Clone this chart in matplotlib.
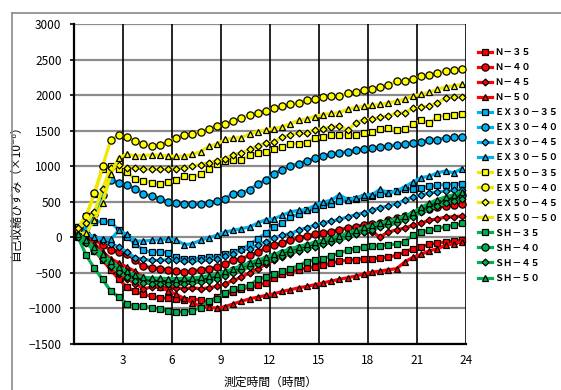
import numpy as np
import matplotlib.pyplot as plt
from matplotlib.lines import Line2D

plt.rcParams["font.family"] = ["Noto Sans CJK JP", "DejaVu Sans"]

# measurement times (h)
hours = np.arange(0.25, 24.0, 0.5)

n35 = [30, -40, -190, -320, -460, -590, -700, -760, -800, -830, -850, -860,
       -870, -880, -870, -880, -910, -840, -795, -770, -725, -700, -676, -640,
       -573, -521, -488, -455, -427, -418, -394, -362, -333, -324, -315, -300,
       -300, -286, -277, -254, -207, -160, -136, -99, -80, -66, -52, -42]
n40 = [100, 50, -30, -113, -174, -200, -230, -324, -408, -427, -441, -455,
       -474, -488, -474, -455, -441, -418, -371, -324, -300, -254, -207, -150,
       -110, -80, -40, -10, 20, 40, 60, 80, 110, 130, 150, 170,
       190, 200, 240, 270, 300, 330, 370, 400, 420, 440, 455, 470]
n45 = [60, -20, -150, -300, -420, -512, -582, -653, -723, -700, -700, -709,
       -709, -723, -709, -723, -709, -690, -653, -606, -559, -500, -440, -380,
       -320, -270, -230, -190, -150, -120, -90, -60, -30, 0, 40, 80,
       70, 10, 75, 105, 130, 170, 200, 240, 260, 285, 290, 300]
n50 = [80, 0, -90, -200, -300, -360, -420, -480, -560, -640, -700, -750,
       -800, -860, -920, -970, -985, -995, -975, -935, -900, -865, -840, -817,
       -793, -760, -737, -710, -690, -666, -640, -615, -590, -568, -545, -515,
       -490, -474, -455, -441, -347, -280, -240, -190, -160, -113, -90, -60]
ex30_35 = [150, 200, 211, 225, 216, 100, 0, -90, -180, -210, -200, -220,
           -280, -300, -300, -290, -280, -270, -240, -200, -170, -100, -20, 60,
           150, 200, 286, 324, 380, 404, 451, 474, 512, 521, 545, 568,
           577, 615, 624, 653, 676, 685, 700, 718, 732, 742, 742, 756]
ex30_40 = [60, 150, 330, 600, 812, 765, 732, 685, 615, 577, 545, 498,
           484, 470, 465, 474, 488, 512, 545, 615, 624, 670, 750, 810,
           897, 953, 1004, 1037, 1075, 1112, 1141, 1169, 1192, 1206, 1225, 1243,
           1257, 1271, 1286, 1300, 1314, 1333, 1342, 1366, 1375, 1398, 1405, 1410]
ex30_45 = [130, 60, 0, -50, -90, -136, -207, -286, -310, -324, -324, -315,
           -324, -333, -338, -324, -315, -300, -268, -230, -183, -160, -113, -60,
           -5, 28, 52, 99, 136, 169, 207, 225, 254, 286, 319, 347,
           380, 418, 441, 474, 521, 568, 592, 624, 639, 653, 662, 671]
ex30_50 = [100, 60, 0, -20, -30, 100, 40, -50, -52, -42, -33, -23,
           -33, -103, -89, -42, -5, 28, 75, 99, 122, 146, 202, 249,
           263, 310, 357, 380, 390, 451, 498, 521, 601, 530, 554, 592,
           601, 676, 624, 653, 709, 779, 840, 859, 906, 934, 906, 967]
ex50_35 = [150, 296, 615, 960, 1000, 962, 915, 817, 793, 770, 751, 774,
           803, 869, 849, 887, 967, 1028, 1075, 1084, 1084, 1155, 1187, 1201,
           1248, 1271, 1319, 1319, 1333, 1394, 1412, 1436, 1436, 1436, 1440, 1464,
           1483, 1530, 1539, 1516, 1520, 1591, 1647, 1601, 1694, 1713, 1725, 1740]
ex50_40 = [120, 300, 620, 1000, 1370, 1440, 1410, 1360, 1310, 1290, 1305, 1340,
           1400, 1445, 1460, 1482, 1530, 1563, 1590, 1637, 1675, 1722, 1750, 1783,
           1816, 1840, 1868, 1896, 1929, 1947, 1975, 1990, 1992, 2027, 2046, 2070,
           2084, 2108, 2144, 2192, 2197, 2229, 2267, 2281, 2314, 2333, 2355, 2370]
ex50_45 = [130, 200, 357, 685, 981, 1014, 981, 972, 967, 962, 958, 962,
           967, 981, 1000, 1023, 1051, 1079, 1108, 1164, 1187, 1239, 1281, 1328,
           1342, 1408, 1440, 1469, 1469, 1516, 1530, 1549, 1563, 1507, 1610, 1657,
           1661, 1690, 1704, 1746, 1750, 1816, 1835, 1844, 1891, 1962, 1970, 1980]
ex50_50 = [50, 60, 250, 488, 887, 1122, 1169, 1145, 1150, 1160, 1155, 1145,
           1140, 1140, 1170, 1201, 1281, 1310, 1376, 1394, 1403, 1455, 1488, 1511,
           1530, 1553, 1595, 1647, 1666, 1699, 1727, 1742, 1755, 1802, 1826, 1844,
           1854, 1868, 1891, 1915, 1943, 1990, 2009, 2042, 2080, 2116, 2130, 2150]
sh35 = [0, -253, -437, -591, -756, -840, -934, -962, -962, -995, -1005, -1040,
        -1050, -1045, -1030, -990, -900, -870, -780, -725, -700, -676, -590, -559,
        -520, -480, -440, -400, -340, -315, -300, -260, -220, -180, -160, -140,
        -125, -115, -105, -95, -60, 30, 70, 100, 125, 150, 170, 195]
sh40 = [20, -60, -170, -270, -370, -460, -520, -570, -600, -610, -615, -620,
        -620, -615, -605, -590, -570, -540, -500, -460, -420, -380, -340, -300,
        -260, -220, -180, -150, -120, -90, -60, -30, 0, 40, 80, 120,
        150, 180, 210, 240, 280, 330, 390, 440, 490, 530, 560, 590]
sh45 = [0, -80, -190, -300, -400, -490, -560, -610, -640, -650, -655, -660,
        -660, -655, -645, -630, -610, -580, -540, -500, -460, -420, -380, -340,
        -300, -260, -220, -190, -160, -130, -100, -70, -40, 0, 40, 80,
        110, 140, 170, 200, 240, 290, 350, 400, 440, 480, 510, 540]
sh50 = [40, -40, -140, -240, -330, -420, -480, -530, -560, -570, -575, -580,
        -580, -575, -570, -560, -540, -520, -480, -440, -400, -360, -320, -280,
        -240, -200, -160, -130, -100, -70, -40, -10, 20, 60, 100, 140,
        170, 200, 230, 260, 300, 350, 420, 480, 530, 570, 600, 640]

labels = ["Ｎ－３５", "Ｎ－４０", "Ｎ－４５", "Ｎ－５０",
          "ＥＸ３０－３５", "ＥＸ３０－４０", "ＥＸ３０－４５", "ＥＸ３０－５０",
          "ＥＸ５０－３５", "ＥＸ５０－４０", "ＥＸ５０－４５", "ＥＸ５０－５０",
          "ＳＨ－３５", "ＳＨ－４０", "ＳＨ－４５", "ＳＨ－５０"]
data = [n35, n40, n45, n50, ex30_35, ex30_40, ex30_45, ex30_50,
        ex50_35, ex50_40, ex50_45, ex50_50, sh35, sh40, sh45, sh50]
group_colors = ["#FF0000", "#00B0F0", "#FFFF00", "#00B050"]
markers = ["s", "o", "D", "^"]
msizes = {"s": 4.8, "o": 5.2, "D": 3.5, "^": 5.0}

fig = plt.figure(figsize=(5.61, 3.9), dpi=100)
ax = fig.add_axes([74 / 561, 1 - 344 / 390, 392 / 561, 320 / 390])

handles = []
for i, (name, vals) in enumerate(zip(labels, data)):
    col = group_colors[i // 4]
    mk = markers[i % 4]
    lcol = "#F0E800" if col == "#FFFF00" else col
    (h,) = ax.plot(hours, vals, color=lcol, lw=2.3, marker=mk, ms=msizes[mk],
                   mfc=col, mec="black", mew=0.9, label=name, zorder=3 + i)
    handles.append(h)

ax.set_xlim(0, 24)
ax.set_ylim(-1500, 3000)
ax.set_xticks(np.arange(3, 25, 3))
ax.set_yticks(np.arange(-1500, 3001, 500))
ax.yaxis.grid(True, color="#8c8c8c", lw=1.6, zorder=0)
for x in range(3, 25, 3):
    ax.axvline(x, color="black", lw=1.2, zorder=1)
ax.set_axisbelow(True)
for s in ["top", "right"]:
    ax.spines[s].set_visible(False)
for s in ["left", "bottom"]:
    ax.spines[s].set_color("black")
    ax.spines[s].set_linewidth(1.6)
ax.tick_params(axis="x", length=0, pad=7, labelsize=8.5)
ax.tick_params(axis="y", length=3, width=1.2, pad=6, labelsize=8.5)

ax.set_ylabel("自己収縮ひずみ（×10⁻⁶）", fontsize=8.5)
ax.yaxis.set_label_coords(-0.133, 0.48)
ax.set_xlabel("測定時間（時間）", fontsize=8.5)
ax.xaxis.set_label_coords(0.5, -0.1)

fig.legend(handles=handles, loc="upper left", bbox_to_anchor=(478 / 561, 1 - 48 / 390),
           frameon=False, prop={"weight": "bold", "size": 6.6},
           handlelength=1.5, handletextpad=0.3, labelspacing=0.66,
           borderpad=0, borderaxespad=0)

# chart area border (left and top edges are visible)
fig.add_artist(Line2D([12 / 561, 12 / 561], [0, 1 - 13 / 390], transform=fig.transFigure,
                      color="#8a8a8a", lw=1.2))
fig.add_artist(Line2D([12 / 561, 1], [1 - 13 / 390, 1 - 13 / 390], transform=fig.transFigure,
                      color="#8a8a8a", lw=1.2))

fig.savefig("out.png", dpi=100)
